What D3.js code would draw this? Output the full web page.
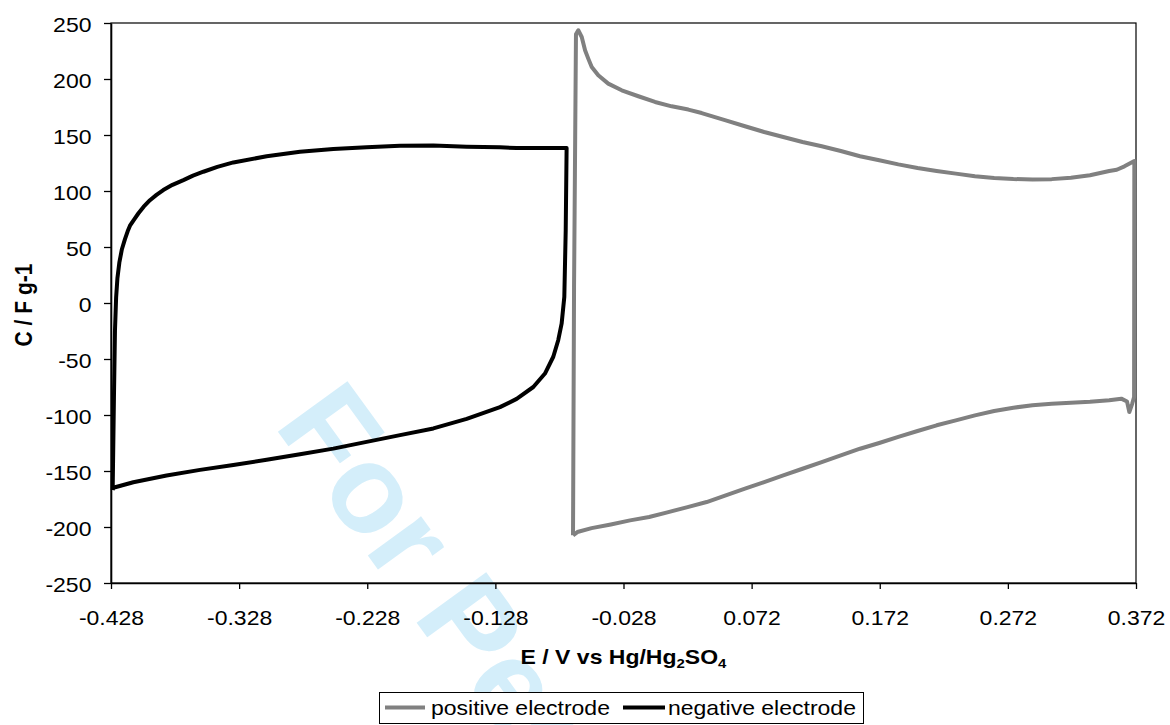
<!DOCTYPE html>
<html><head><meta charset="utf-8">
<script src="https://cdn.jsdelivr.net/npm/d3@7/dist/d3.min.js"></script>
<style>
html,body{margin:0;padding:0;background:#fff;}
svg{display:block;font-family:"Liberation Sans",Arial,sans-serif;}
</style></head>
<body>
<svg id="chart" width="1170" height="725"></svg>
<script>
// ---------- data ----------
const xTickValues = [-0.428,-0.328,-0.228,-0.128,-0.028,0.072,0.172,0.272,0.372];
const xTickLabels = ["-0.428","-0.328","-0.228","-0.128","-0.028","0.072","0.172","0.272","0.372"];
const yTickValues = [250,200,150,100,50,0,-50,-100,-150,-200,-250];
const yTickLabels = ["250","200","150","100","50","0","-50","-100","-150","-200","-250"];

// negative electrode (black) : E / V, C / F g-1
const negE = [-0.4267,-0.4257,-0.4249,-0.4240,-0.4230,-0.4215,-0.4195,-0.4171,-0.4150,-0.4132,-0.4100,-0.4067,-0.4025,-0.3976,-0.3925,-0.3872,-0.3800,-0.3715,-0.3640,-0.3559,-0.3450,-0.3325,-0.3065,-0.2805,-0.2545,-0.2285,-0.2024,-0.1764,-0.1504,-0.1244,-0.1114,-0.0724,
  -0.0731,-0.0742,-0.0763,-0.0789,-0.0828,-0.0893,-0.0984,-0.1114,-0.1244,-0.1504,-0.1764,-0.2024,-0.2285,-0.2545,-0.2805,-0.3065,-0.3325,-0.3585,-0.3846,-0.4106,-0.4262,-0.4267];
const negC = [-167,-84.1,-24.5,5,22,36,48,57,64,69,74.5,79.9,86,91.8,96.5,100.8,105.5,109.7,113.7,117.2,121.5,125.5,131,135,137.5,139,140.5,140.7,139.6,139,138.4,138.4,
  65,5.4,-18.5,-33,-48,-63,-75,-85.6,-93,-103.5,-112,-118,-124,-130,-135,-140,-144.6,-149,-154,-160,-165,-167];

// positive electrode (grey)
const posE = [-0.0674,-0.0666,-0.0651,-0.0633,-0.0606,-0.0580,-0.0555,-0.0528,-0.0477,-0.0399,-0.0294,-0.0164,-0.0034,0.0096,0.0226,0.0330,0.0518,0.0668,0.0818,0.0967,0.1117,0.1267,0.1416,0.1566,0.1716,0.1865,0.2015,0.2164,0.2314,0.2463,0.2613,0.2763,0.2912,0.3062,0.3212,0.3361,0.3511,0.3570,0.3630,0.3707,
  0.3705,0.3690,0.3668,0.3650,0.3605,
  0.3511,0.3361,0.3212,0.3062,0.2912,0.2763,0.2613,0.2463,0.2314,0.2164,0.2015,0.1865,0.1716,0.1566,0.1416,0.1267,0.1117,0.0967,0.0818,0.0668,0.0518,0.0369,0.0220,0.0070,-0.0080,-0.0229,-0.0379,-0.0529,-0.0640,-0.0674];
const posC = [-207.4,14,240,243.5,237.5,225.6,218.2,210.7,203.3,195.9,189.9,184.6,179.5,175.6,172.7,169.6,163.1,157.8,152.7,148.2,143.8,139.9,135.7,131.0,127.4,123.8,120.6,117.9,115.5,113.1,111.6,110.7,110.2,110.6,111.8,114,117.9,119,122,126.8,
  -84,-90,-97.3,-88,-85.4,
  -86.8,-88.2,-89.0,-90.0,-91.3,-93.5,-96.4,-100.3,-104.8,-109.2,-114.3,-119.6,-125,-130.1,-136,-142,-148,-153.9,-159.9,-165.8,-171.8,-177.7,-182.2,-186.7,-191.1,-194.1,-197.7,-201,-204.5,-207.4];

const seriesNames = ["positive electrode","negative electrode"];
const seriesColors = ["#808080","#000000"];
const xTitle = ["E / V vs Hg/Hg","2","SO","4"];
const yTitle = "C / F g-1";
const watermark = "For Peer Review";

// ---------- drawing ----------
const SX = 1.15; // horizontal text stretch of the reference
const svg = d3.select("#chart");
const L = 111, R = 1136, T = 23, B = 583;
const x = d3.scaleLinear().domain([-0.428, 0.372]).range([L, R]);
const y = d3.scaleLinear().domain([-250, 250]).range([B, T]);

svg.append("rect").attr("width",1170).attr("height",725).attr("fill","#fff");

// watermark
svg.append("text")
  .attr("transform","translate(273,425) rotate(54)")
  .attr("font-size",125).attr("font-weight","bold")
  .attr("fill","#d4eefa")
  .text(watermark);

// plot border (top & right)
svg.append("rect").attr("x",L).attr("y",T).attr("width",R-L).attr("height",B-T)
  .attr("fill","none").attr("stroke","#000").attr("stroke-width",1.2);

// axes
const gy = svg.append("g").attr("transform",`translate(${L},0)`)
  .call(d3.axisLeft(y).tickValues(yTickValues).tickSize(7).tickSizeOuter(0).tickPadding(9)
    .tickFormat((d,i)=>yTickLabels[i]));
const gx = svg.append("g").attr("transform",`translate(0,${B})`)
  .call(d3.axisBottom(x).tickValues(xTickValues).tickSize(6).tickSizeOuter(0).tickPadding(22)
    .tickFormat((d,i)=>xTickLabels[i]));
[gx,gy].forEach(g=>{
  g.select(".domain").attr("stroke","#000").attr("stroke-width",1.6);
  g.selectAll(".tick line").attr("stroke","#000").attr("stroke-width",1.3);
  g.selectAll(".tick text").attr("fill","#000").attr("font-size",20)
   .attr("font-family","'Liberation Sans',Arial,sans-serif");
});
gy.selectAll(".tick text").attr("x",-17).attr("dy","0.42em").attr("transform",`scale(${SX},1)`);
gx.selectAll(".tick text").attr("dy","0.71em").attr("transform",`scale(${SX},1)`);

// curves
const line = d3.line().x(d=>x(d[0])).y(d=>y(d[1]));
const posData = posE.map((e,i)=>[e,posC[i]]);
const negData = negE.map((e,i)=>[e,negC[i]]);
svg.append("path").datum(posData).attr("d",line).attr("fill","none")
  .attr("stroke",seriesColors[0]).attr("stroke-width",4).attr("stroke-linejoin","round");
svg.append("path").datum(negData).attr("d",line).attr("fill","none")
  .attr("stroke",seriesColors[1]).attr("stroke-width",4).attr("stroke-linejoin","round");

// axis titles
const xt = svg.append("text").attr("transform",`translate(623.5,664) scale(${SX},1)`)
  .attr("text-anchor","middle").attr("font-size",20).attr("font-weight","bold");
xt.append("tspan").text(xTitle[0]);
xt.append("tspan").attr("font-size",13).attr("dy",4).text(xTitle[1]);
xt.append("tspan").attr("dy",-4).text(xTitle[2]);
xt.append("tspan").attr("font-size",13).attr("dy",4).text(xTitle[3]);

svg.append("text").attr("transform",`translate(31.5,305) scale(${SX},1) rotate(-90)`)
  .attr("text-anchor","middle").attr("font-size",21).attr("font-weight","bold").text(yTitle);

// legend
const lg = svg.append("g");
lg.append("rect").attr("x",379.5).attr("y",692.5).attr("width",484).attr("height",31)
  .attr("fill","#fff").attr("stroke","#000").attr("stroke-width",1);
const legItems = [{x1:385,x2:425,tx:431},{x1:623,x2:665,tx:668}];
legItems.forEach((it,i)=>{
  lg.append("line").attr("x1",it.x1).attr("x2",it.x2).attr("y1",707.5).attr("y2",707.5)
    .attr("stroke",seriesColors[i]).attr("stroke-width",4);
  lg.append("text").attr("transform",`translate(${it.tx},715) scale(${SX},1)`)
    .attr("font-size",20).attr("fill","#000").text(seriesNames[i]);
});
</script>
</body></html>
